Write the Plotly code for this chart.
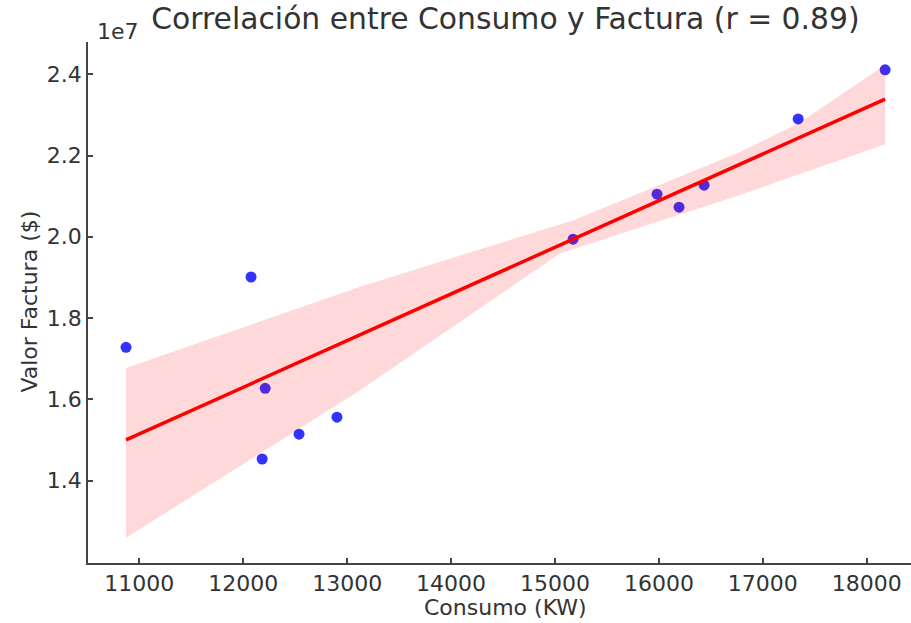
import plotly.graph_objects as go

# Data
consumo_kw = [10872, 12075, 12211, 12182, 12537, 12902, 15174, 15982, 16194, 16435, 17340, 18177]
factura = [1.728e7, 1.901e7, 1.627e7, 1.453e7, 1.514e7, 1.556e7, 1.994e7, 2.105e7, 2.073e7, 2.127e7, 2.290e7, 2.411e7]

# Regression line (as drawn)
fit_x = [10872, 18177]
fit_y = [1.500e7, 2.339e7]

# Confidence band edges (as drawn)
band_upper_x = [10872, 13124, 15177, 16781, 17349, 18177]
band_upper_y = [1.677e7, 1.877e7, 2.041e7, 2.209e7, 2.280e7, 2.423e7]
band_lower_x = [10872, 13124, 15048, 16781, 18177]
band_lower_y = [1.259e7, 1.622e7, 1.959e7, 2.103e7, 2.228e7]

x_ticks = [11000, 12000, 13000, 14000, 15000, 16000, 17000, 18000]
x_tick_text = ["11000", "12000", "13000", "14000", "15000", "16000", "17000", "18000"]
y_ticks = [1.4e7, 1.6e7, 1.8e7, 2.0e7, 2.2e7, 2.4e7]
y_tick_text = ["1.4", "1.6", "1.8", "2.0", "2.2", "2.4"]

title_text = "Correlación entre Consumo y Factura (r = 0.89)"
FONT = "DejaVu Sans"
TXT = "#333333"
AX = "#444444"

W, H = 911, 623
L, R, T, B = 88, 0, 42, 60

fig = go.Figure()

fig.add_trace(go.Scatter(
    x=consumo_kw, y=factura, mode="markers",
    marker=dict(color="rgba(0,0,255,0.8)", size=11, line=dict(width=0)),
    showlegend=False, hoverinfo="x+y",
))

fig.add_trace(go.Scatter(
    x=band_upper_x + band_lower_x[::-1],
    y=band_upper_y + band_lower_y[::-1],
    fill="toself", fillcolor="rgba(255,0,0,0.15)",
    line=dict(width=0), mode="lines", showlegend=False, hoverinfo="skip",
))

fig.add_trace(go.Scatter(
    x=fit_x, y=fit_y, mode="lines",
    line=dict(color="#ff0000", width=3.5), showlegend=False,
))

fig.update_layout(
    width=W, height=H,
    margin=dict(l=L, r=R, t=T, b=B, pad=0),
    paper_bgcolor="white", plot_bgcolor="white",
    font=dict(family=FONT, size=22, color=TXT),
    title=dict(text=title_text, x=505.4 / W, xref="container", xanchor="center",
               y=1 - 19 / H, yref="container", yanchor="middle",
               font=dict(family=FONT, size=29.8, color=TXT)),
    xaxis=dict(range=[10506, 18426], tickvals=x_ticks, ticktext=x_tick_text,
               showgrid=False, zeroline=False,
               showline=True, linecolor=AX, linewidth=1.8,
               ticks="inside", ticklen=5, tickwidth=1.5, tickcolor=AX,
               tickfont=dict(family=FONT, size=22, color=TXT)),
    yaxis=dict(range=[1.197e7, 2.4795e7], tickvals=y_ticks, ticktext=y_tick_text,
               showgrid=False, zeroline=False,
               showline=True, linecolor=AX, linewidth=1.8,
               ticks="inside", ticklen=5, tickwidth=1.5, tickcolor=AX,
               tickfont=dict(family=FONT, size=22, color=TXT)),
)

pw = W - L - R
ph = H - T - B

def px(xp):
    return (xp - L) / pw

def py(yp):
    return (H - B - yp) / ph

fig.add_annotation(text="Consumo (KW)", x=px(505.5), y=py(607), xref="paper", yref="paper",
                   xanchor="center", yanchor="middle", showarrow=False,
                   font=dict(family=FONT, size=22, color=TXT))
fig.add_annotation(text="Valor Factura ($)", x=px(28.6), y=py(302), xref="paper", yref="paper",
                   xanchor="center", yanchor="middle", textangle=-90, showarrow=False,
                   font=dict(family=FONT, size=22, color=TXT))
fig.add_annotation(text="1e7", x=px(95), y=py(31), xref="paper", yref="paper",
                   xanchor="left", yanchor="middle", showarrow=False,
                   font=dict(family=FONT, size=22, color=TXT))

fig.write_html("out.html")
